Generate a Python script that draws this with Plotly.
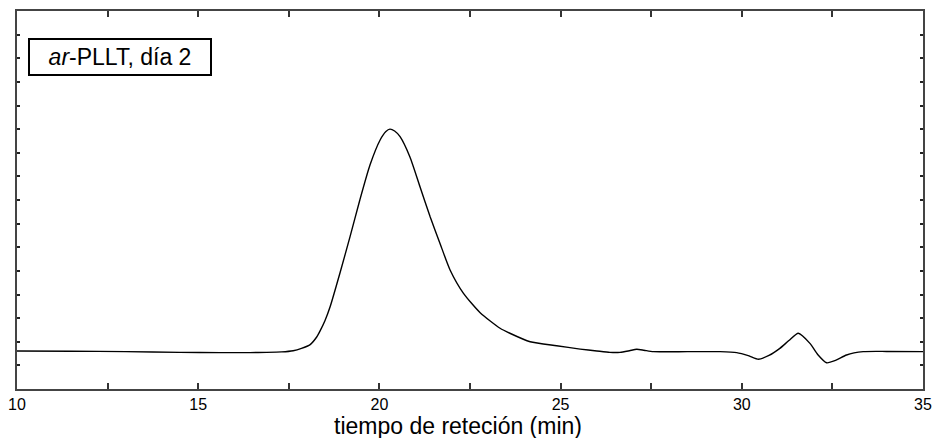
import plotly.graph_objects as go

# retention time (min) and detector signal (arbitrary units)
tiempo = [10.0, 11.5, 13.0, 14.5, 15.6, 16.43, 16.89, 17.3, 17.62, 17.85, 18.09, 18.27,
          18.36, 18.5, 18.64, 18.91, 19.19, 19.46, 19.74, 20.02, 20.18, 20.29, 20.42,
          20.57, 20.84, 21.12, 21.40, 21.67, 21.95, 22.32, 22.78, 23.33, 23.60, 24.16,
          24.89, 25.54, 26.0, 26.36, 26.64, 26.9, 27.10, 27.3, 27.56, 28.5, 29.40,
          29.86, 30.2, 30.46, 30.75, 31.05, 31.3, 31.56, 31.88, 32.1, 32.34, 32.6,
          32.89, 33.35, 34.0, 35.0]
senal = [1.61, 1.60, 1.58, 1.55, 1.54, 1.54, 1.55, 1.57, 1.62, 1.72, 1.88, 2.2,
         2.45, 2.9, 3.48, 4.90, 6.45, 8.0, 9.48, 10.54, 10.9, 11.0, 10.92,
         10.68, 9.83, 8.56, 7.29, 6.17, 5.04, 4.05, 3.23, 2.57, 2.36, 2.0,
         1.83, 1.69, 1.61, 1.55, 1.55, 1.62, 1.68, 1.64, 1.58, 1.58, 1.58,
         1.54, 1.40, 1.26, 1.42, 1.72, 2.05, 2.36, 1.93, 1.45, 1.11, 1.22,
         1.44, 1.58, 1.59, 1.58]

x_ticks = [10, 15, 20, 25, 30, 35]

trace = go.Scatter(x=tiempo, y=senal, mode='lines',
                   line=dict(color='black', width=1.4, shape='spline', smoothing=0.6),
                   showlegend=False, hoverinfo='skip')

layout = go.Layout(
    width=936, height=438,
    margin=dict(l=17, r=13, t=11, b=49),
    paper_bgcolor='white', plot_bgcolor='white',
    font=dict(family='Liberation Sans, Arial', color='black'),
    xaxis=dict(range=[10, 35], tickvals=x_ticks, ticktext=[str(v) for v in x_ticks],
               ticks='inside', ticklen=2, tickcolor='#333', tickwidth=2,
               minor=dict(dtick=2.5, ticks='inside', ticklen=6, tickcolor='#333', tickwidth=1.5),
               showline=True, linecolor='#444', linewidth=2, mirror='ticks',
               showgrid=False, zeroline=False, automargin=False,
               tickfont=dict(size=16), ticklabelstandoff=0),
    yaxis=dict(range=[0, 16], dtick=1, showticklabels=False,
               ticks='inside', ticklen=3, tickcolor='#222', tickwidth=1.5,
               showline=True, linecolor='#444', linewidth=2, mirror='ticks',
               showgrid=False, zeroline=False, automargin=False),
    annotations=[
        dict(text='<i>ar</i>-PLLT, día 2', xref='paper', yref='paper',
             x=0.012, y=0.929, xanchor='left', yanchor='top', showarrow=False,
             font=dict(size=23), bordercolor='black', borderwidth=2,
             borderpad=3, bgcolor='white', width=174, height=28, align='center'),
        dict(text='tiempo de reteción (min)', xref='paper', yref='paper',
             x=0.487, y=-0.098, xanchor='center', yanchor='middle', showarrow=False,
             font=dict(size=23)),
    ]
)

fig = go.Figure(data=[trace], layout=layout)
# drop the browser's default body margin so the figure sits at the page corner
fig.write_html("out.html", config={'displayModeBar': False},
               post_script="document.body.style.margin='0';")
